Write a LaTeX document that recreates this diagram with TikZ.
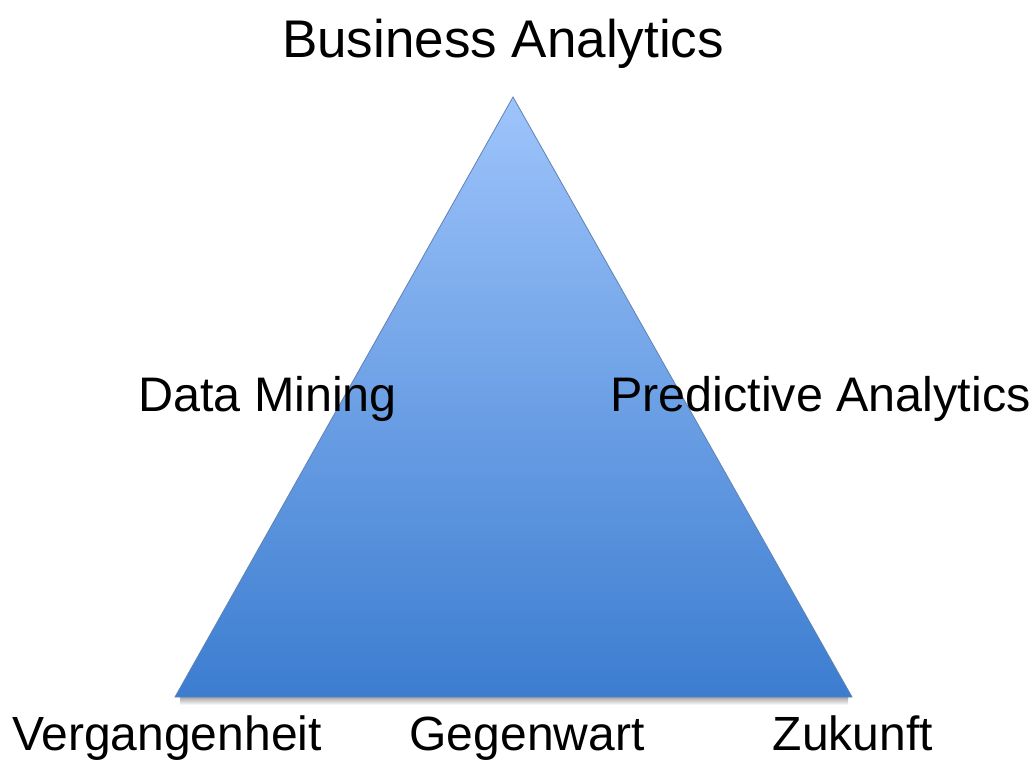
\documentclass[tikz,border=0pt]{standalone}
\usepackage{fontspec}
\setmainfont{Liberation Sans}
\usetikzlibrary{positioning}

\definecolor{pyrtop}{RGB}{158,196,251}
\definecolor{pyrbottom}{RGB}{60,125,208}
\definecolor{pyredge}{RGB}{95,130,180}

\tikzset{
  label big/.style={inner sep=0pt,anchor=base,font=\fontsize{53}{60}\selectfont},
  label side/.style={inner sep=0pt,anchor=base west,font=\fontsize{48.5}{56}\selectfont},
  label time/.style={inner sep=0pt,anchor=base,font=\fontsize{48}{56}\selectfont}
}

\begin{document}
\begin{tikzpicture}[x=1pt,y=-1pt]
  \useasboundingbox (0,0) rectangle (1036,760);
  \fill[white] (0,0) rectangle (1036,760);
  % corners of the pyramid
  \coordinate (apex) at (513,97);
  \coordinate (left) at (175,697);
  \coordinate (right) at (852,697);
  % soft shadow under the base
  \shade[top color=black!35,bottom color=white] (180,697) rectangle (848,705);
  \shade[top color=pyrtop,bottom color=pyrbottom,draw=pyredge,line width=0.8pt]
    (apex) -- (right) -- (left) -- cycle;
  \node[label big] (title) at (503,58) {Business Analytics};
   \node[label side] (mining) at (138,411) {Data Mining};
   \node[label side] (predict) at (610,411) {Predictive Analytics};
   \node[label time] (past) at (167,750) {Vergangenheit};
   \node[label time] (present) at (527,750) {Gegenwart};
   \node[label time] (future) at (853,750) {Zukunft};
\end{tikzpicture}
\end{document}
